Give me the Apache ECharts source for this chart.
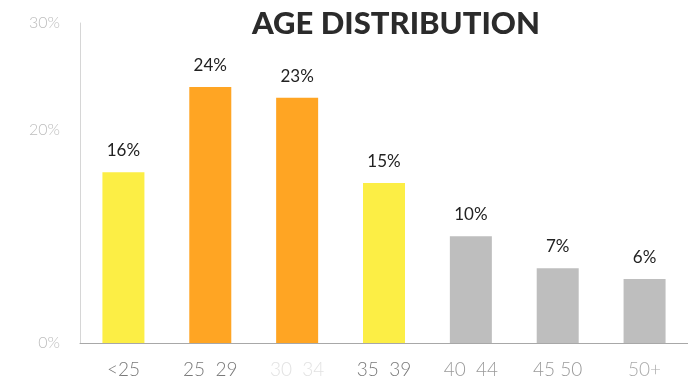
<!DOCTYPE html>
<html>
<head>
<meta charset="utf-8">
<script src="https://cdn.jsdelivr.net/npm/echarts@6/dist/echarts.min.js"></script>
<style>
  html, body { margin: 0; padding: 0; background: #ffffff; }
  #chart { width: 688px; height: 381px; }
</style>
</head>
<body>
<div id="chart"></div>
<script>
// Age groups and their share of respondents (%)
const categories = ['<25', '25  29', '30  34', '35  39', '40  44', '45 50', '50+'];
const shares = [16, 24, 23, 15, 10, 7, 6];
const barColors = ['#FCEE45', '#FFA523', '#FFA523', '#FCEE45', '#BEBEBE', '#BEBEBE', '#BEBEBE'];
const categoryLabelColors = ['#7a7a7a', '#7a7a7a', '#e2e2e2', '#7a7a7a', '#9a9a9a', '#9a9a9a', '#aaaaaa'];
const yTicks = { min: 0, max: 30, interval: 10 };

const chart = echarts.init(document.getElementById('chart'));

chart.setOption({
  animation: false,
  title: {
    text: 'AGE DISTRIBUTION',
    left: 391,
    top: 3,
    textAlign: 'center',
    textStyle: {
      fontFamily: 'Lato',
      fontWeight: 900,
      fontSize: 31,
      color: '#2b2b2b'
    }
  },
  grid: { left: 80, top: 23, width: 616, height: 320 },
  xAxis: {
    type: 'category',
    data: categories.map((c, i) => ({ value: c, textStyle: { color: categoryLabelColors[i] } })),
    axisLine: { lineStyle: { color: '#a8a8a8', width: 1 } },
    axisTick: { show: false },
    axisLabel: {
      margin: 17,
      fontFamily: 'Lato',
      fontSize: 19,
      fontWeight: 300
    }
  },
  yAxis: {
    type: 'value',
    min: yTicks.min,
    max: yTicks.max,
    interval: yTicks.interval,
    axisLine: { show: true, lineStyle: { color: '#d6d6d6', width: 1 } },
    axisTick: { show: false },
    splitLine: { show: false },
    axisLabel: {
      margin: 20,
      fontFamily: 'Lato',
      fontSize: 16,
      fontWeight: 300,
      color: '#bdbdbd',
      formatter: v => v === 10 ? '' : v + '%'
    }
  },
  series: [{
    type: 'bar',
    data: shares.map((v, i) => ({ value: v, itemStyle: { color: barColors[i] } })),
    barWidth: 42,
    label: {
      show: true,
      position: 'top',
      distance: 13,
      fontFamily: 'Lato',
      fontSize: 17,
      color: '#222222',
      formatter: p => p.value + '%'
    }
  }]
});
</script>
</body>
</html>
